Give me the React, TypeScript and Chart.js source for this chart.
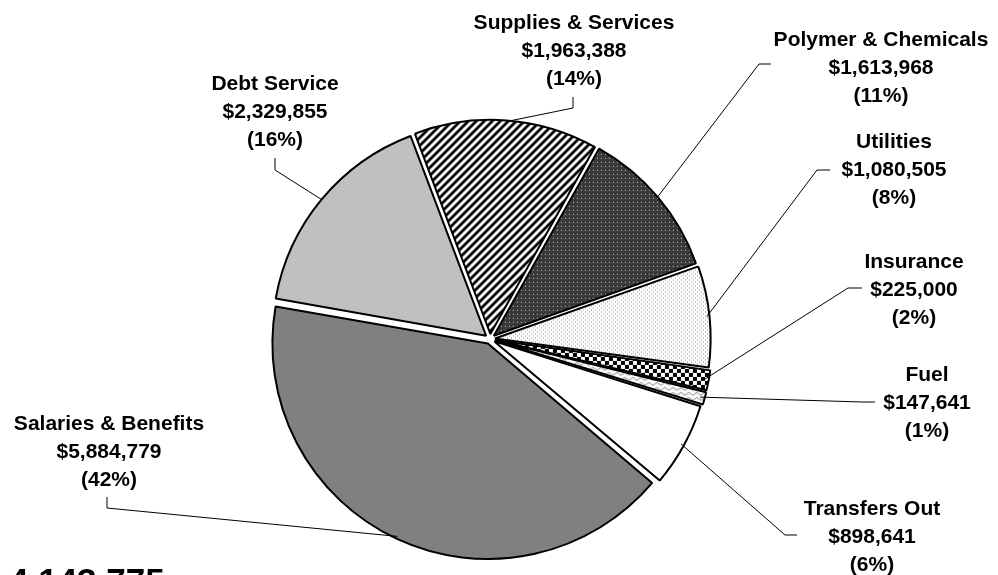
import React, { useEffect, useRef } from "react";
import { Chart, registerables } from "chart.js";

Chart.register(...registerables);

// ---- data ----
const categories = [
  "Debt Service",
  "Supplies & Services",
  "Polymer & Chemicals",
  "Utilities",
  "Insurance",
  "Fuel",
  "Transfers Out",
  "Salaries & Benefits",
];
const amounts = [2329855, 1963388, 1613968, 1080505, 225000, 147641, 898641, 5884779];
const totalText = "4,143,775";

// ---- layout (label placement, not data) ----
const labelCenters: number[][] = [
  [275, 82], [574, 21], [881, 38], [894, 140], [914, 260], [927, 373], [872, 507], [109, 422],
];
const leaderStarts: number[][] = [
  [275, 158], [573, 97], [771, 64], [830, 170], [862, 288], [875, 402], [797, 535], [107, 497],
];
const leaderElbows: number[][] = [
  [275, 170], [573, 108], [759, 64], [817, 170], [848, 288], [862, 402], [785, 535], [107, 508],
];

const FONT = 'bold 21px "Liberation Sans", Arial, sans-serif';
const LINE_H = 28;
const OFFSET = 20;

function tile(w: number, h: number, draw: (c: CanvasRenderingContext2D) => void): CanvasPattern | string {
  const cv = document.createElement("canvas");
  cv.width = w;
  cv.height = h;
  const c = cv.getContext("2d");
  if (!c) return "#fff";
  draw(c);
  return c.createPattern(cv, "repeat") || "#fff";
}

function makeFills(): (CanvasPattern | string)[] {
  const stripes = tile(8, 8, (c) => {
    c.fillStyle = "#fff";
    c.fillRect(0, 0, 8, 8);
    for (let x = 0; x < 8; x++)
      for (let y = 0; y < 8; y++) {
        const k = (x + y) % 8;
        if (k < 3) {
          c.fillStyle = "#000";
          c.fillRect(x, y, 1, 1);
        } else if (k === 3 || k === 7) {
          c.fillStyle = "#888";
          c.fillRect(x, y, 1, 1);
        }
      }
  });
  const darkDots = tile(4, 4, (c) => {
    c.fillStyle = "#383838";
    c.fillRect(0, 0, 4, 4);
    c.fillStyle = "#cfcfcf";
    c.fillRect(1, 1, 1, 1);
  });
  const lightDots = tile(4, 4, (c) => {
    c.fillStyle = "#fff";
    c.fillRect(0, 0, 4, 4);
    c.fillStyle = "#8a8a8a";
    c.fillRect(0, 0, 1, 1);
    c.fillRect(2, 2, 1, 1);
  });
  const checker = tile(8, 8, (c) => {
    c.fillStyle = "#fff";
    c.fillRect(0, 0, 8, 8);
    c.fillStyle = "#000";
    c.fillRect(0, 0, 4, 4);
    c.fillRect(4, 4, 4, 4);
  });
  const zigzag = tile(8, 5, (c) => {
    c.fillStyle = "#fff";
    c.fillRect(0, 0, 8, 5);
    c.strokeStyle = "#808080";
    c.lineWidth = 1;
    c.beginPath();
    c.moveTo(0, 4);
    c.lineTo(4, 1);
    c.lineTo(8, 4);
    c.stroke();
  });
  return ["#c0c0c0", stripes, darkDots, lightDots, checker, zigzag, "#ffffff", "#808080"];
}

const labelPlugin = {
  id: "outerLabels",
  afterDraw(chart: any) {
    const ctx: CanvasRenderingContext2D = chart.ctx;
    const meta = chart.getDatasetMeta(0);
    const data: number[] = chart.data.datasets[0].data;
    const total = data.reduce((a, b) => a + b, 0);
    ctx.save();
    ctx.strokeStyle = "#000";
    ctx.lineWidth = 1;
    meta.data.forEach((arc: any, i: number) => {
      const mid = (arc.startAngle + arc.endAngle) / 2;
      const t = OFFSET / 4;
      const r = arc.outerRadius + t;
      const ex = arc.x + Math.cos(mid) * r;
      const ey = arc.y + Math.sin(mid) * r;
      ctx.beginPath();
      ctx.moveTo(leaderStarts[i][0], leaderStarts[i][1]);
      ctx.lineTo(leaderElbows[i][0], leaderElbows[i][1]);
      ctx.lineTo(ex, ey);
      ctx.stroke();
    });
    ctx.fillStyle = "#000";
    ctx.font = FONT;
    ctx.textAlign = "center";
    ctx.textBaseline = "alphabetic";
    const capHalf = (21 * 0.716) / 2;
    data.forEach((v, i) => {
      const lines = [
        chart.data.labels[i],
        "$" + v.toLocaleString("en-US"),
        "(" + Math.round((v / total) * 100) + "%)",
      ];
      lines.forEach((s: string, k: number) => {
        ctx.fillText(s, labelCenters[i][0], labelCenters[i][1] + k * LINE_H + capHalf);
      });
    });
    ctx.textAlign = "left";
    ctx.font = 'bold 35px "Liberation Sans", Arial, sans-serif';
    ctx.fillText(totalText, 9, 593);
    ctx.restore();
  },
};

export default function App() {
  const ref = useRef<HTMLCanvasElement | null>(null);
  useEffect(() => {
    if (!ref.current) return;
    const chart = new Chart(ref.current, {
      type: "pie",
      data: {
        labels: categories,
        datasets: [
          {
            data: amounts,
            backgroundColor: makeFills() as any,
            borderColor: "#000",
            borderWidth: 2,
            offset: OFFSET,
            hoverOffset: 0,
          },
        ],
      },
      options: {
        animation: false,
        responsive: true,
        maintainAspectRatio: false,
        rotation: 280,
        radius: 213,
        events: [],
        layout: { padding: { top: 103, right: 18, left: 0, bottom: 0 } },
        plugins: { legend: { display: false }, tooltip: { enabled: false }, title: { display: false } },
      } as any,
      plugins: [labelPlugin],
    });
    return () => chart.destroy();
  }, []);
  return (
    <div style={{ position: "fixed", left: 0, top: 0, width: 998, height: 575, background: "#fff" }}>
      <canvas ref={ref} />
    </div>
  );
}
